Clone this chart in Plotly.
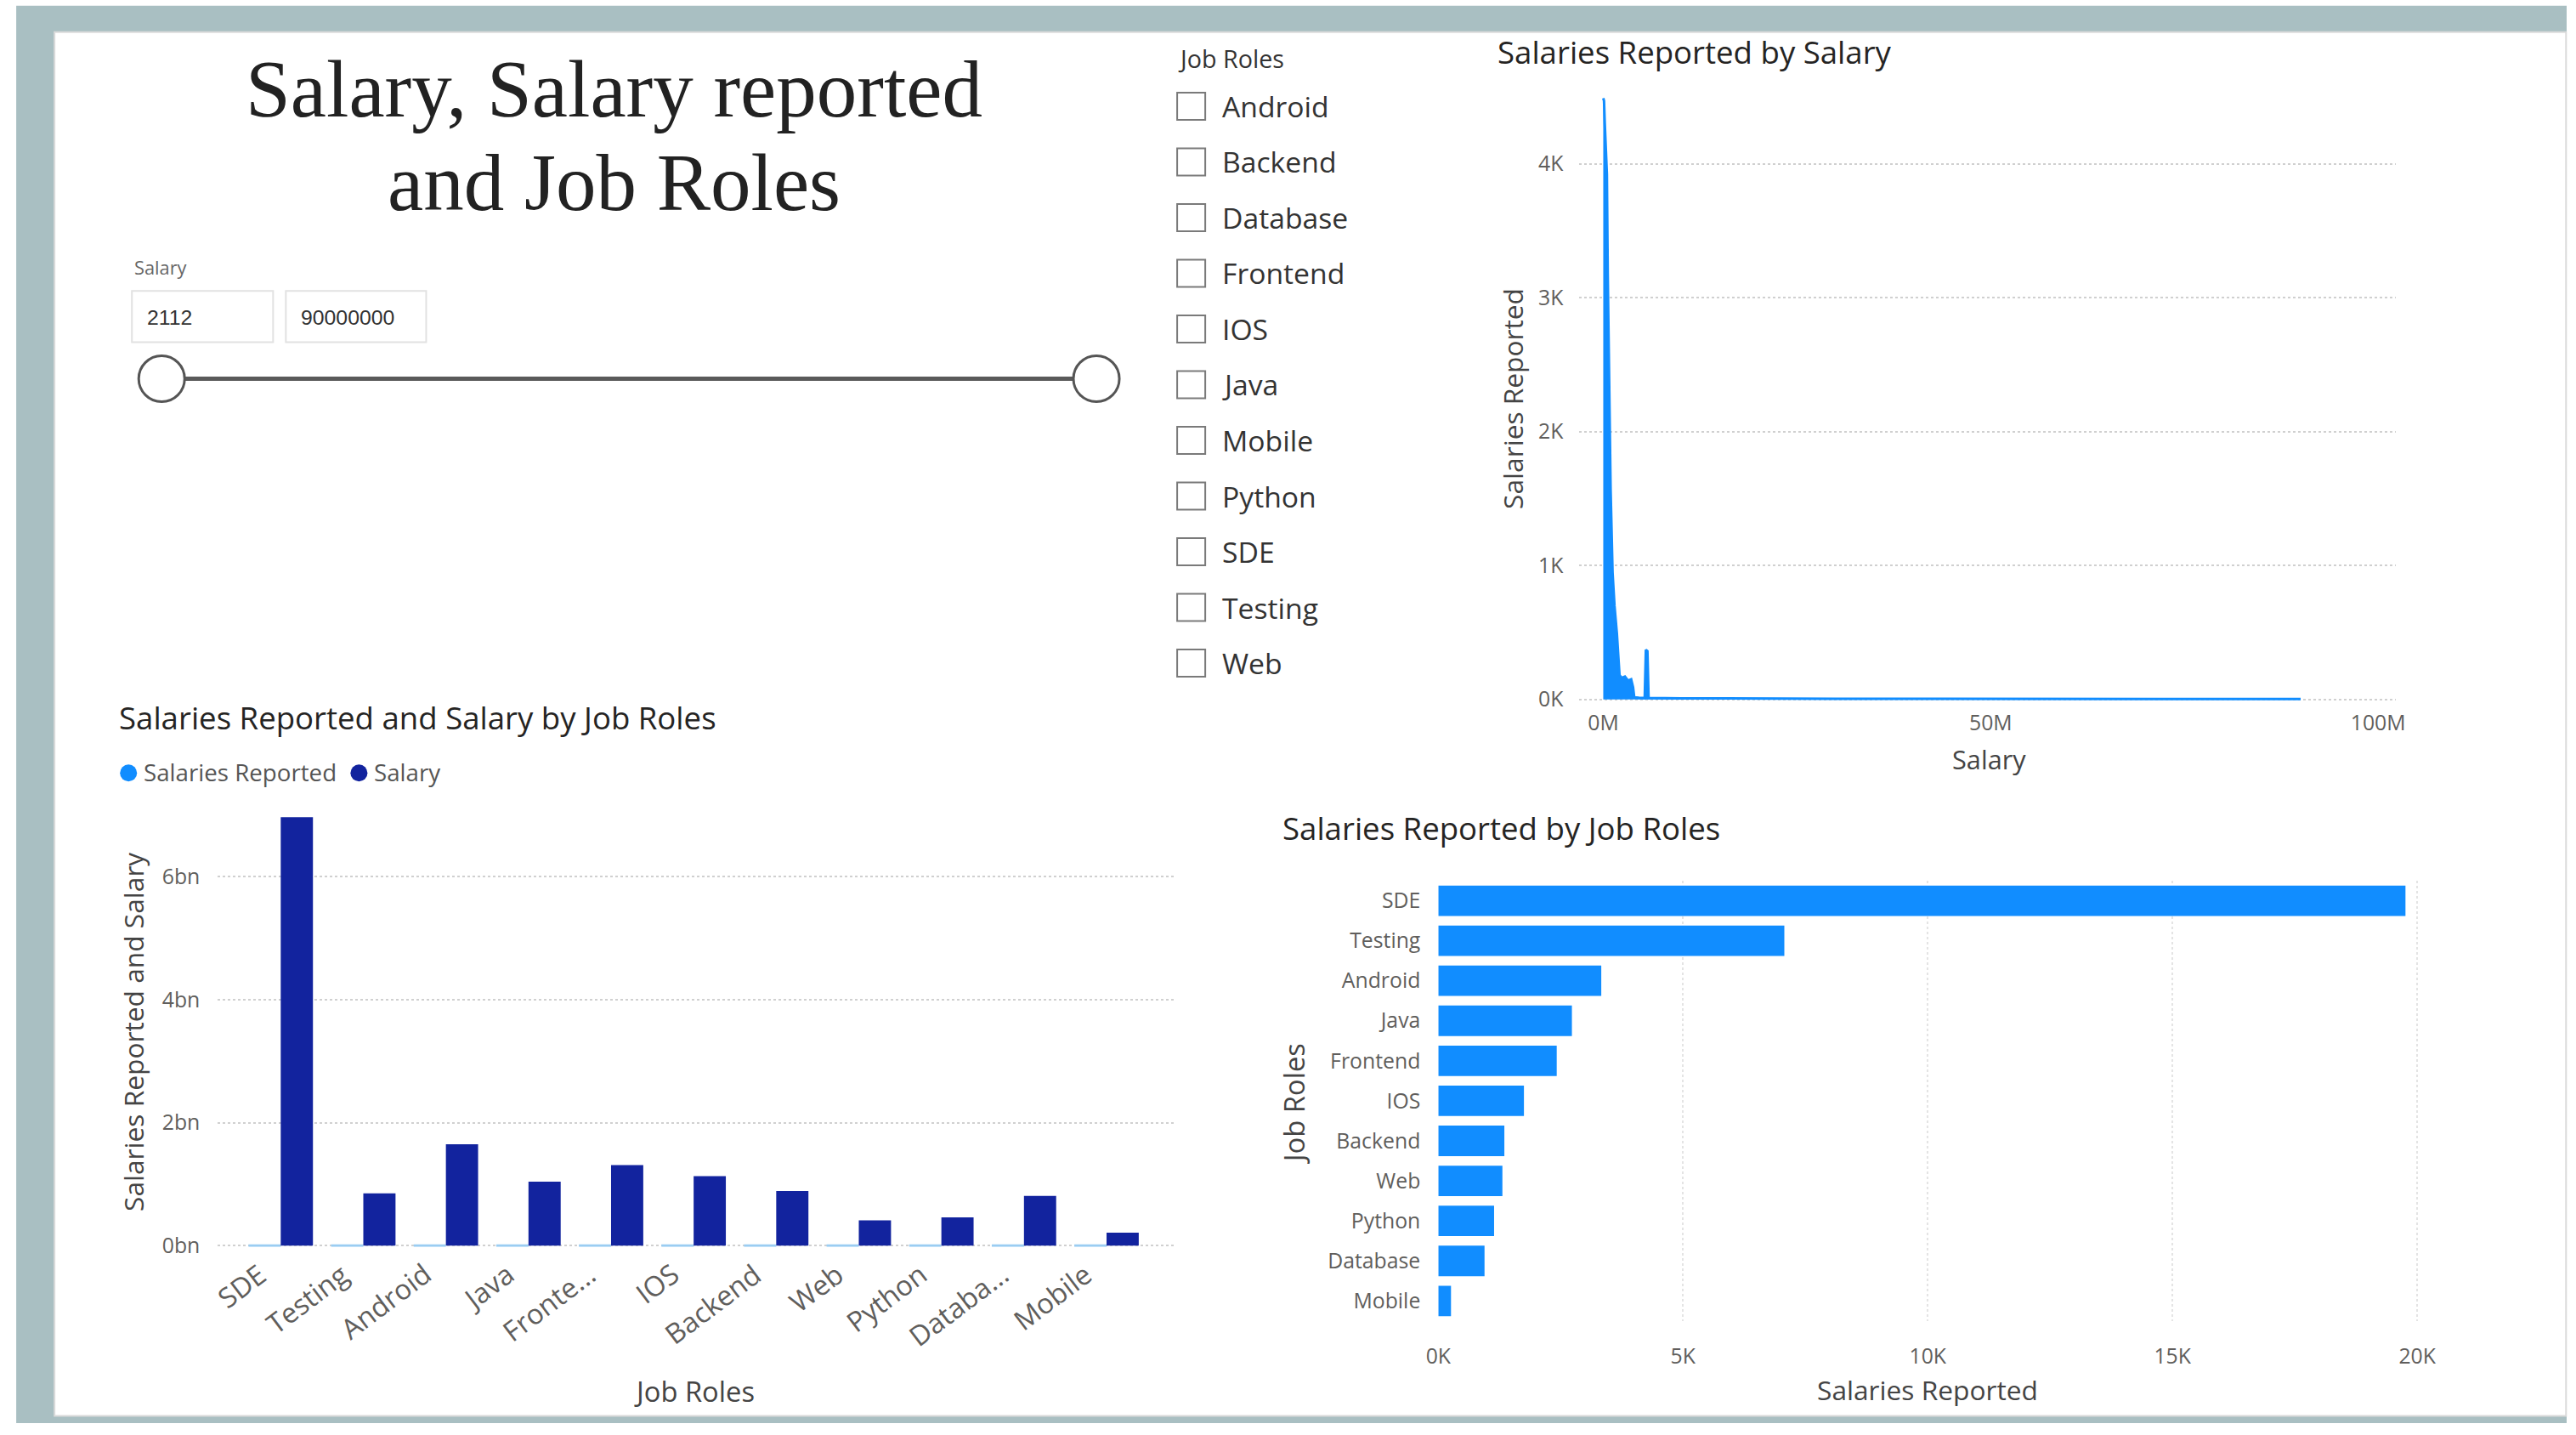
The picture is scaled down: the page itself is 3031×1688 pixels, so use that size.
import plotly.graph_objects as go

# ---------------- data ----------------
roles = ["SDE", "Testing", "Android", "Java", "Frontend", "IOS", "Backend", "Web", "Python", "Database", "Mobile"]
role_ticks = ["SDE", "Testing", "Android", "Java", "Fronte...", "IOS", "Backend", "Web", "Python", "Databa...", "Mobile"]
salaries_reported = [19760, 7070, 3330, 2730, 2420, 1750, 1350, 1310, 1140, 945, 260]
salary_total = [6.97e9, 0.85e9, 1.65e9, 1.04e9, 1.31e9, 1.13e9, 0.89e9, 0.41e9, 0.46e9, 0.81e9, 0.21e9]
slicer_roles = ["Android", "Backend", "Database", "Frontend", "IOS", "Java", "Mobile", "Python", "SDE", "Testing", "Web"]

salary_points = [2112, 100000, 200000, 350000, 470000, 580000, 750000, 950000, 1200000, 1450000,
                 1760000, 2100000, 2400000, 2800000, 3200000, 3600000, 3850000, 4000000, 4600000,
                 5350000, 5500000, 5700000, 5850000, 10000000, 30000000, 60000000, 90000000]
reported_counts = [4490, 4470, 4300, 4100, 3920, 3180, 2400, 1570, 950, 700,
                   490, 180, 160, 170, 140, 150, 90, 15, 12,
                   10, 370, 360, 10, 8, 5, 3, 2]

line_y_ticks = [0, 1000, 2000, 3000, 4000]
line_y_text = ["0K", "1K", "2K", "3K", "4K"]
line_x_ticks = [0, 50e6, 100e6]
line_x_text = ["0M", "50M", "100M"]
combo_y_ticks = [0, 2e9, 4e9, 6e9]
combo_y_text = ["0bn", "2bn", "4bn", "6bn"]
hbar_x_ticks = [0, 5000, 10000, 15000, 20000]
hbar_x_text = ["0K", "5K", "10K", "15K", "20K"]

slider_min_label = "2112"
slider_max_label = "90000000"

# ---------------- style ----------------
W, H = 3031, 1688
# placement correction measured from the rendered picture (layout is given in target pixels)
SX, OX = 0.9907, 13.9
SY, OY = 0.990, 1.3
S = 0.99  # font scale that goes with the correction

BLUE = "#118DFF"
NAVY = "#12239E"
BG = "#A9BFC2"
TICK = "#605E5C"
TITLE = "#252423"
GRID = "#D0D0D0"
SANS = "Open Sans"


def fx(x):
    return ((x - OX) / SX) / W


def fy(y):
    return 1 - ((y - OY) / SY) / H


def fs(v):
    return round(v * S, 1)


fig = go.Figure()

# Line/area chart: Salaries Reported by Salary
fig.add_trace(go.Scatter(
    x=salary_points, y=reported_counts, mode="lines",
    line=dict(color=BLUE, width=3), fill="tozeroy", fillcolor=BLUE,
    xaxis="x", yaxis="y", showlegend=False, hoverinfo="skip"))

# Combo chart
fig.add_trace(go.Bar(
    x=roles, y=salaries_reported, name="Salaries Reported",
    marker=dict(color=BLUE, line=dict(color="#9ACDF2", width=3)),
    xaxis="x2", yaxis="y2", offsetgroup="a", showlegend=False))
fig.add_trace(go.Bar(
    x=roles, y=salary_total, name="Salary",
    marker=dict(color=NAVY, line=dict(width=0)),
    xaxis="x2", yaxis="y2", offsetgroup="b", showlegend=False))

# Horizontal bar chart
fig.add_trace(go.Bar(
    x=salaries_reported, y=roles, orientation="h", width=0.76,
    marker=dict(color=BLUE, line=dict(width=0)),
    xaxis="x3", yaxis="y3", showlegend=False))

tickfont = dict(family=SANS, size=fs(25), color=TICK)

fig.update_layout(
    autosize=True,
    margin=dict(l=0, r=0, t=0, b=0, pad=0),
    paper_bgcolor="white", plot_bgcolor="rgba(0,0,0,0)",
    barmode="group", bargap=0.22, bargroupgap=0,
    xaxis=dict(domain=[fx(1856), fx(2816)], range=[-3.07e6, 102.3e6], anchor="y",
               tickvals=line_x_ticks, ticktext=line_x_text, showgrid=False, zeroline=False,
               showline=False, ticks="", tickfont=tickfont, ticklabelstandoff=4),
    yaxis=dict(domain=[fy(829), fy(105)], range=[-41, 4564], anchor="x",
               tickvals=line_y_ticks, ticktext=line_y_text, showgrid=True, griddash="dot",
               gridcolor=GRID, gridwidth=2, zeroline=False, showline=False, ticks="",
               tickfont=tickfont, ticklabelstandoff=18),
    xaxis2=dict(domain=[fx(255), fx(1382)], type="category", range=[-0.762, 10.845], anchor="y2",
                showticklabels=False, showgrid=False, zeroline=False, showline=False, ticks=""),
    yaxis2=dict(domain=[fy(1465.5), fy(950)], range=[-0.02e9, 7.12e9], anchor="x2",
                tickvals=combo_y_ticks, ticktext=combo_y_text, showgrid=True, griddash="dot",
                gridcolor=GRID, gridwidth=2, zeroline=False, showline=False, ticks="",
                tickfont=tickfont, ticklabelstandoff=20),
    xaxis3=dict(domain=[fx(1690), fx(2860)], range=[0, 20330], anchor="y3",
                tickvals=hbar_x_ticks, ticktext=hbar_x_text, showgrid=True, griddash="dot",
                gridcolor="#E4E4E4", gridwidth=2, zeroline=False, showline=False, ticks="",
                tickfont=tickfont, ticklabelstandoff=24),
    yaxis3=dict(domain=[fy(1552.5), fy(1035.5)], type="category", range=[10.5, -0.5],
                anchor="x3", showgrid=False, zeroline=False, showline=False, ticks="",
                tickfont=tickfont, ticklabelstandoff=20),
)

shapes = []
annotations = []

# background frame
shapes.append(dict(type="rect", xref="paper", yref="paper", x0=fx(18), x1=1.0, y0=0, y1=fy(8),
                   fillcolor=BG, line=dict(width=0), layer="below"))
shapes.append(dict(type="rect", xref="paper", yref="paper", x0=fx(63), x1=fx(3016),
                   y0=fy(1664), y1=fy(39), fillcolor="white", line=dict(color="#DADADA", width=2),
                   layer="below"))


def text(x, y, s, size, color=TITLE, family=SANS, xanchor="left", yanchor="middle", angle=0):
    annotations.append(dict(x=fx(x), y=fy(y), xref="paper", yref="paper", text=s, showarrow=False,
                            xanchor=xanchor, yanchor=yanchor, textangle=angle,
                            font=dict(family=family, size=fs(size), color=color)))


# main title
text(721, 106, "Salary, Salary reported", 96, color="#222", family="Liberation Serif", xanchor="center")
text(721, 216, "and Job Roles", 96, color="#222", family="Liberation Serif", xanchor="center")

# Salary slicer
text(155, 315, "Salary", 22, color="#666")
for x0, x1, s in [(154, 320, slider_min_label), (335, 500, slider_max_label)]:
    shapes.append(dict(type="rect", xref="paper", yref="paper", x0=fx(x0), x1=fx(x1), y0=fy(403), y1=fy(343),
                       fillcolor="white", line=dict(color="#E2E2E2", width=2)))
    text(x0 + 16, 374, s, 25, color="#333", family="Liberation Sans")
shapes.append(dict(type="line", xref="paper", yref="paper", x0=fx(189), x1=fx(1288), y0=fy(446), y1=fy(446),
                   line=dict(color="#5A5A5A", width=5)))
for cx in (189, 1288):
    shapes.append(dict(type="circle", xref="paper", yref="paper", x0=fx(cx - 27), x1=fx(cx + 27),
                       y0=fy(446 + 27), y1=fy(446 - 27), fillcolor="white",
                       line=dict(color="#555", width=3)))

# Job Roles slicer
text(1382, 70, "Job Roles", 29, color="#333")
for i, r in enumerate(slicer_roles):
    cy = 126 + i * 65.4
    shapes.append(dict(type="rect", xref="paper", yref="paper", x0=fx(1383), x1=fx(1416),
                       y0=fy(cy + 16), y1=fy(cy - 16), fillcolor="white",
                       line=dict(color="#7A7A7A", width=2)))
    text(1434, cy, r, 34, color="#333")

# Line chart texts
text(1758, 62, "Salaries Reported by Salary", 37, color=TITLE)
text(1777, 469, "Salaries Reported", 32, color="#444", angle=-90, xanchor="center")
text(2338, 893, "Salary", 31, color="#444", xanchor="center")

# Combo chart texts
text(137, 844, "Salaries Reported and Salary by Job Roles", 37, color=TITLE)
shapes.append(dict(type="circle", xref="paper", yref="paper", x0=fx(140), x1=fx(160),
                   y0=fy(919), y1=fy(899), fillcolor=BLUE, line=dict(width=0)))
text(166, 908, "Salaries Reported", 28, color="#555")
shapes.append(dict(type="circle", xref="paper", yref="paper", x0=fx(411), x1=fx(431),
                   y0=fy(919), y1=fy(899), fillcolor=NAVY, line=dict(width=0)))
text(437, 908, "Salary", 28, color="#555")
text(156, 1213, "Salaries Reported and Salary", 32, color="#444", angle=-90, xanchor="center")
text(815, 1635, "Job Roles", 33, color="#444", xanchor="center")

# rotated category labels of the combo chart, placed on the category axis
for r, t in zip(roles, role_ticks):
    annotations.append(dict(x=r, xref="x2", y=fy(1472), yref="paper", text=t, showarrow=False,
                            xanchor="right", yanchor="top", textangle=-37, xshift=-6,
                            font=dict(family=SANS, size=fs(33), color=TICK)))

# Horizontal bar chart texts
text(1505, 974, "Salaries Reported by Job Roles", 37, color=TITLE)
text(1521, 1297, "Job Roles", 33, color="#444", angle=-90, xanchor="center")
text(2265, 1633, "Salaries Reported", 32, color="#444", xanchor="center")

fig.update_layout(shapes=shapes, annotations=annotations)

fig.write_html(
    "out.html",
    config={"displayModeBar": False, "responsive": False},
    default_width=f"{W}px; position:absolute; left:0px; top:0px",
    default_height=f"{H}px",
)
